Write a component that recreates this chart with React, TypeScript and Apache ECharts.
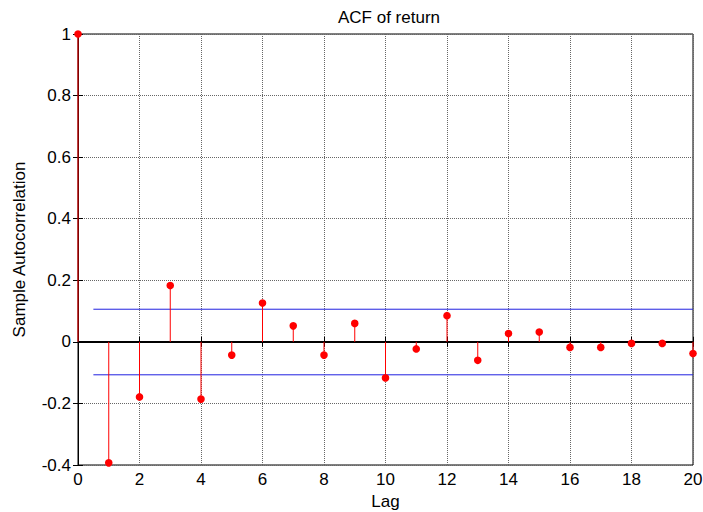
import React, { useEffect, useRef } from "react";
import * as echarts from "echarts";

const lags = [0, 1, 2, 3, 4, 5, 6, 7, 8, 9, 10, 11, 12, 13, 14, 15, 16, 17, 18, 19, 20];
const acf = [1, -0.393, -0.179, 0.183, -0.186, -0.043, 0.126, 0.052, -0.043, 0.06, -0.117, -0.023, 0.085, -0.06, 0.027, 0.032, -0.018, -0.018, -0.005, -0.005, -0.038];
const upperBound = [[0.5, 0.106], [20, 0.106]];
const lowerBound = [[0.5, -0.107], [20, -0.107]];
const zeroLine = [[0, 0], [20, 0]];

const FONT = "Liberation Sans, Arial, sans-serif";

export default function App() {
  const ref = useRef<HTMLDivElement>(null);
  useEffect(() => {
    if (!ref.current) return;
    const chart = echarts.init(ref.current, null, { renderer: "svg" });
    const stemData = lags.map((l, i) => [l, acf[i]]);
    chart.setOption({
      animation: false,
      backgroundColor: "#fff",
      title: {
        text: "ACF of return",
        left: 384,
        textAlign: "center",
        top: 4,
        textStyle: { fontFamily: FONT, fontSize: 17, fontWeight: "normal", color: "#000" },
      },
      grid: {
        left: 78,
        right: 10,
        top: 34,
        bottom: 47,
        show: true,
        borderColor: "#000",
        borderWidth: 1,
        backgroundColor: "#fff",
        outerBoundsMode: "none",
        containLabel: false,
      },
      xAxis: [
        {
          type: "value",
          min: 0,
          max: 20,
          interval: 2,
          name: "Lag",
          nameLocation: "middle",
          nameGap: 27,
          nameTextStyle: { fontFamily: FONT, fontSize: 17, color: "#000" },
          axisLine: { show: true, lineStyle: { color: "#000" } },
          axisTick: { show: true, inside: true, length: 5, lineStyle: { color: "#000" } },
          axisLabel: { fontFamily: FONT, fontSize: 17, color: "#000", margin: 6 },
          splitLine: { show: true, lineStyle: { color: "#666", type: "dotted", width: 1 } },
        },
        {
          type: "value",
          position: "top",
          min: 0,
          max: 20,
          interval: 2,
          axisLine: { show: true, lineStyle: { color: "#000" } },
          axisTick: { show: true, inside: true, length: 5, lineStyle: { color: "#000" } },
          axisLabel: { show: false },
          splitLine: { show: false },
        },
      ],
      yAxis: [
        {
          type: "value",
          min: -0.4,
          max: 1,
          interval: 0.2,
          name: "Sample Autocorrelation",
          nameLocation: "middle",
          nameGap: 50,
          nameTextStyle: { fontFamily: FONT, fontSize: 17, color: "#000" },
          axisLine: { show: true, lineStyle: { color: "#000" } },
          axisTick: { show: true, inside: true, length: 5, lineStyle: { color: "#000" } },
          axisLabel: {
            fontFamily: FONT,
            fontSize: 17,
            color: "#000",
            margin: 7,
            formatter: (v: number) => String(Math.round(v * 10) / 10),
          },
          splitLine: { show: true, lineStyle: { color: "#666", type: "dotted", width: 1 } },
        },
        {
          type: "value",
          position: "right",
          min: -0.4,
          max: 1,
          interval: 0.2,
          axisLine: { show: true, lineStyle: { color: "#000" } },
          axisTick: { show: true, inside: true, length: 5, lineStyle: { color: "#000" } },
          axisLabel: { show: false },
          splitLine: { show: false },
        },
      ],
      series: [
        {
          type: "line",
          data: zeroLine,
          symbol: "none",
          lineStyle: { color: "#000", width: 1.5 },
          z: 3,
        },
        {
          type: "line",
          data: upperBound,
          symbol: "none",
          lineStyle: { color: "#2020e0", width: 1 },
          z: 3,
        },
        {
          type: "line",
          data: lowerBound,
          symbol: "none",
          lineStyle: { color: "#2020e0", width: 1 },
          z: 3,
        },
        {
          type: "custom",
          data: stemData,
          z: 5,
          clip: false,
          renderItem: (params: any, api: any) => {
            const x = api.value(0);
            const y = api.value(1);
            const p0 = api.coord([x, 0]);
            const p1 = api.coord([x, y]);
            return {
              type: "group",
              children: [
                {
                  type: "line",
                  shape: { x1: p0[0], y1: p0[1], x2: p1[0], y2: p1[1] },
                  style: { stroke: "#ff0000", lineWidth: 1 },
                },
                {
                  type: "circle",
                  shape: { cx: p1[0], cy: p1[1], r: 3.8 },
                  style: { fill: "#ff0000", stroke: "none" },
                },
              ],
            };
          },
        },
      ],
    });
    return () => chart.dispose();
  }, []);
  return <div ref={ref} style={{ width: 703, height: 512, position: "absolute", left: 0, top: 0 }} />;
}
